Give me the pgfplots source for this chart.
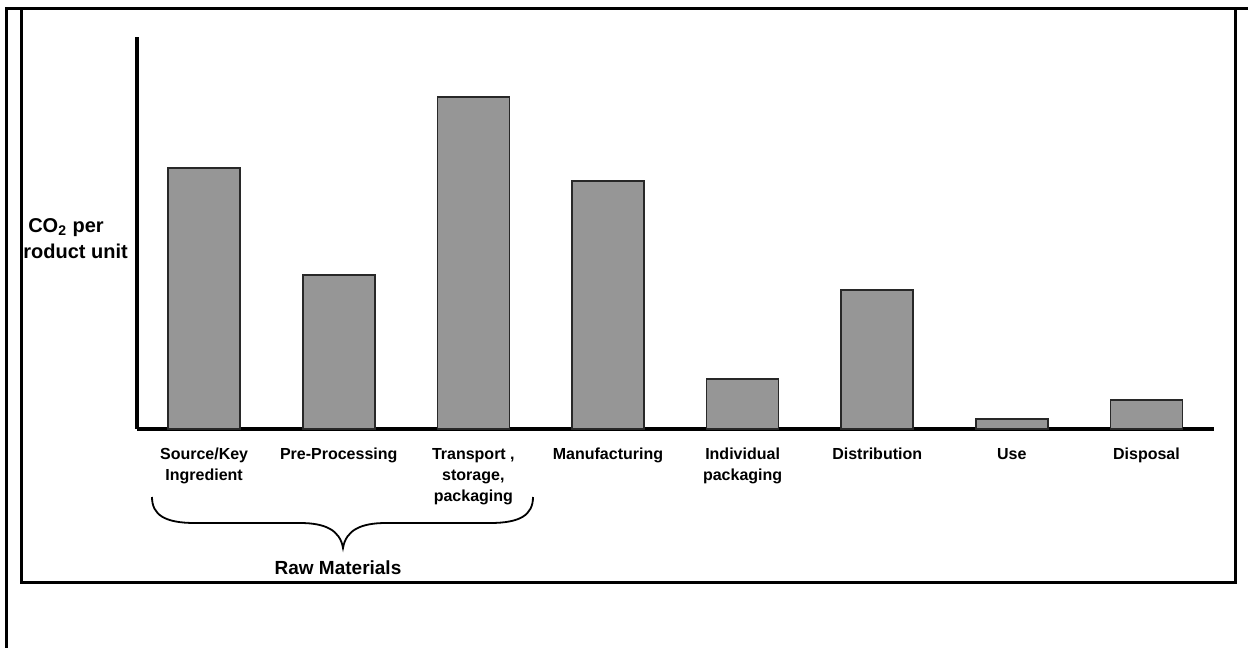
\documentclass[border=0pt]{standalone}
\usepackage{fontspec}
\setmainfont{Liberation Sans}
\usepackage{pgfplots}
\pgfplotsset{compat=1.18}
\definecolor{barfill}{RGB}{150,150,150}
\definecolor{baredge}{RGB}{40,40,40}
\begin{document}
\begin{tikzpicture}
\begin{scope}[x=0.5pt,y=-0.5pt]
\useasboundingbox (0,0) rectangle (1248,648);
\draw[line width=1.5pt] (5,8) -- (1248,8);
\draw[line width=1.5pt] (6,8) -- (6,648);
\draw[line width=1.5pt] (21,8) -- (21,582) -- (1235,582) -- (1235,8);
\begin{scope}
\clip (22,9) rectangle (1234,581);
\node[font=\fontsize{10}{13}\selectfont\bfseries, anchor=base] at (66,232) {CO\textsubscript{2} per};
\node[font=\fontsize{10}{13}\selectfont\bfseries, anchor=base] at (69.5,258) {product unit};
\end{scope}
\draw[line width=0.9pt] (152,497) .. controls (152,515) and (165,523) .. (195,523) -- (300,523) .. controls (325,523) and (340,530) .. (343,548) .. controls (346,530) and (361,523) .. (386,523) -- (490,523) .. controls (520,523) and (533,515) .. (533,497);
\node[font=\fontsize{9.5}{12}\selectfont\bfseries, anchor=base] at (338,574) {Raw Materials};
\end{scope}
\begin{axis}[
  at={(68.4pt,-214.5pt)}, anchor=south west,
  scale only axis, width=538.5pt, height=196pt,
  xmin=-0.5, xmax=7.5, ymin=0, ymax=392,
  axis lines=left, axis line style={-, line width=1.8pt, black},
  ytick=\empty,
  xtick={0,...,7},
  xticklabels={{Source/Key\\Ingredient},{Pre-Processing},{Transport ,\\storage,\\packaging},{Manufacturing},{Individual\\packaging},{Distribution},{Use},{Disposal}},
  major tick length=0pt,
  xticklabel style={align=center, anchor=north, yshift=-6pt, font=\fontsize{8}{10.5}\selectfont\bfseries},
  clip=false,
]
\addplot[ybar, bar width=36pt, fill=barfill, draw=baredge, line width=0.85pt] coordinates {
(0,261.3) (1,154.3) (2,331.7) (3,248.3) (4,50.3) (5,139) (6,10) (7,29)
};
\end{axis}
\end{tikzpicture}
\end{document}
